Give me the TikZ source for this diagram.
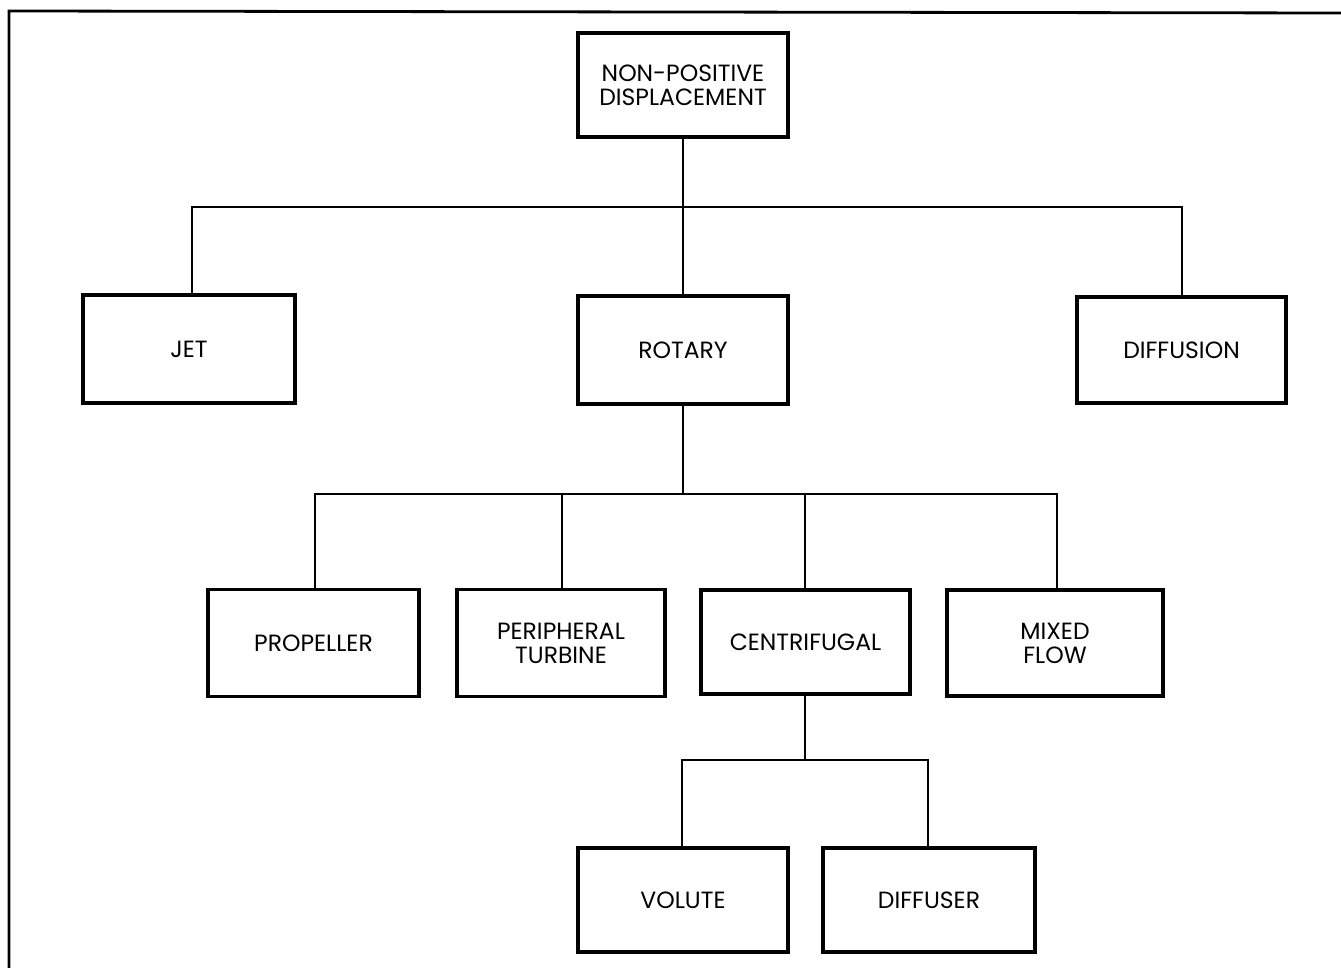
\documentclass[tikz,border=0pt]{standalone}
\usepackage{fontspec}
\setmainfont{Poppins}
\begin{document}
\begin{tikzpicture}[x=1pt,y=-1pt,
  box/.style={draw, line width=3.2pt, minimum width=#1, inner sep=0pt, align=center,
    font=\fontsize{23.5}{24}\selectfont},
  box/.default={210pt},
  link/.style={line width=2pt}]
\useasboundingbox (0,0) rectangle (1341,968);
% frame
\draw[line width=2.8pt] (9,968) -- (9,11) -- (1341,13);
% nodes
\node[box, minimum height=104pt] (npd) at (683,85) {NON-POSITIVE\\DISPLACEMENT};
\node[box=212pt, minimum height=108pt] (jet) at (189,349) {JET};
\node[box, minimum height=108pt] (rot) at (683,350) {ROTARY};
\node[box=209pt, minimum height=106pt] (dif) at (1181.5,350) {DIFFUSION};
\node[box=211pt, minimum height=107pt] (prop) at (313.5,643) {PROPELLER};
\node[box=208pt, minimum height=107pt] (peri) at (561,643) {PERIPHERAL\\TURBINE};
\node[box=209pt, minimum height=104pt] (cent) at (805.5,642) {CENTRIFUGAL};
\node[box=216pt, minimum height=106pt] (mix) at (1055,643) {MIXED\\FLOW};
\node[box=210pt, minimum height=104pt] (vol) at (683,900) {VOLUTE};
\node[box=212pt, minimum height=104pt] (dfs) at (929,900) {DIFFUSER};
% bus coordinates
\coordinate (b1) at (683,207);
\coordinate (b2) at (683,494);
\coordinate (b3) at (805,760);
% connectors
\draw[link] (npd.south) -- (rot.north);
\draw[link] (jet.north -| 192,0) |- (b1) -| (dif.north -| 1182,0);
\draw[link] (rot.south) -- (b2);
\draw[link] (prop.north -| 315,0) |- (b2) -| (mix.north -| 1057,0);
\draw[link] (peri.north -| 562,0) -- (b2 -| 562,0);
\draw[link] (cent.north -| 805,0) -- (b2 -| 805,0);
\draw[link] (cent.south -| 805,0) -- (b3);
\draw[link] (vol.north -| 682,0) |- (b3) -| (dfs.north -| 928,0);
\end{tikzpicture}
\end{document}
